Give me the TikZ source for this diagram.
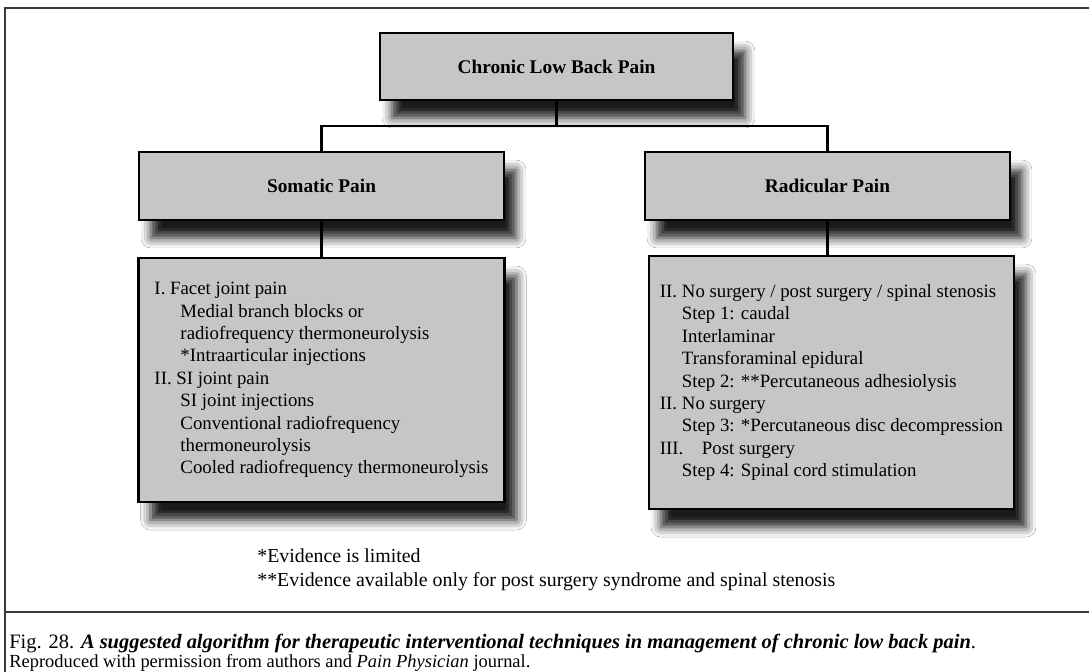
\documentclass[tikz,border=0pt]{standalone}
\usepackage{fontspec}
\setmainfont{Liberation Serif}
\usepackage{tikz}
\usetikzlibrary{positioning,shadows.blur}
\definecolor{boxgray}{HTML}{C6C6C6}
\definecolor{framegray}{HTML}{3A3A3A}
\tikzset{
  hdr/.style={draw=black,line width=1.2pt,fill=boxgray,inner sep=0pt,
              font=\bfseries\fontsize{11}{13}\selectfont,
              minimum width=7.3cm,minimum height=1.36cm,
              blur shadow={shadow xshift=0.24cm,shadow yshift=-0.36cm,
                           shadow blur radius=0.2cm,shadow opacity=90}},
  lst/.style={hdr,font=\fontsize{10.7}{12.75}\selectfont,align=left},
  conn/.style={line width=1.2pt,black},
  frm/.style={line width=1.3pt,framegray},
  note/.style={font=\fontsize{11.3}{13.6}\selectfont,align=left,inner sep=0pt},
}
\newcommand{\ind}{\hspace*{0.52cm}}
\newcommand{\rind}{\hspace*{0.44cm}}

\begin{document}
\begin{tikzpicture}[x=0.02cm,y=-0.02cm]
  \clip (0,0) rectangle (1089,672);
  \fill[white] (0,0) rectangle (1089,672);
  % frame and caption rule
  \draw[frm] (1089,8) -- (5,8) -- (5,672);
  \draw[frm] (5,612) -- (1089,612);

  % boxes
  \node[hdr,minimum width=7.06cm,minimum height=1.34cm] (top) at (556.5,66.5) {Chronic Low Back Pain};
  \node[hdr] (soma) at (321.5,186) {Somatic Pain};
  \node[hdr] (radi) at (827.5,186) {Radicular Pain};

  \node[lst,minimum width=7.32cm,minimum height=4.88cm,below=7.2mm of soma] (somalist)
    {I. Facet joint pain\\
     \ind Medial branch blocks or\\
     \ind radiofrequency thermoneurolysis\\
     \ind *Intraarticular injections\\
     II. SI joint pain\\
     \ind SI joint injections\\
     \ind Conventional radiofrequency\\
     \ind thermoneurolysis\\
     \ind Cooled radiofrequency thermoneurolysis};
  \node[lst,minimum height=5.06cm,below=6.8mm of radi,xshift=0.08cm] (radilist)
    {\makebox[0.44cm][l]{II.}No surgery / post surgery / spinal stenosis\\
     \rind Step 1: caudal\\
     \rind Interlaminar\\
     \rind Transforaminal epidural\\
     \rind Step 2: **Percutaneous adhesiolysis\\
     \makebox[0.44cm][l]{II.}No surgery\\
     \rind Step 3: *Percutaneous disc decompression\\
     \makebox[0.84cm][l]{III.}Post surgery\\
     \rind Step 4: Spinal cord stimulation};

  % connectors
  \draw[conn] (top.south) -- ++(0,25) coordinate (fork);
  \draw[conn] (soma.north) |- (fork) -| (radi.north);
  \draw[conn] (soma.south) -- (somalist.north);
  \draw[conn] (radi.south) -- (radi.south |- radilist.north);

  % footnotes and caption
  \node[note,anchor=west] (notes) at (257,570)
    {*Evidence is limited\\**Evidence available only for post surgery syndrome and spinal stenosis};
  \node[note,anchor=base west,font=\fontsize{11.65}{13}\selectfont] (cap1) at (9,648)
    {Fig. 28. \textbf{\textit{A suggested algorithm for therapeutic interventional techniques in management of chronic low back pain}}.};
  \node[note,anchor=base west,font=\fontsize{10.5}{12}\selectfont] (cap2) at (9,667)
    {Reproduced with permission from authors and \textit{Pain Physician} journal.};
\end{tikzpicture}
\end{document}
